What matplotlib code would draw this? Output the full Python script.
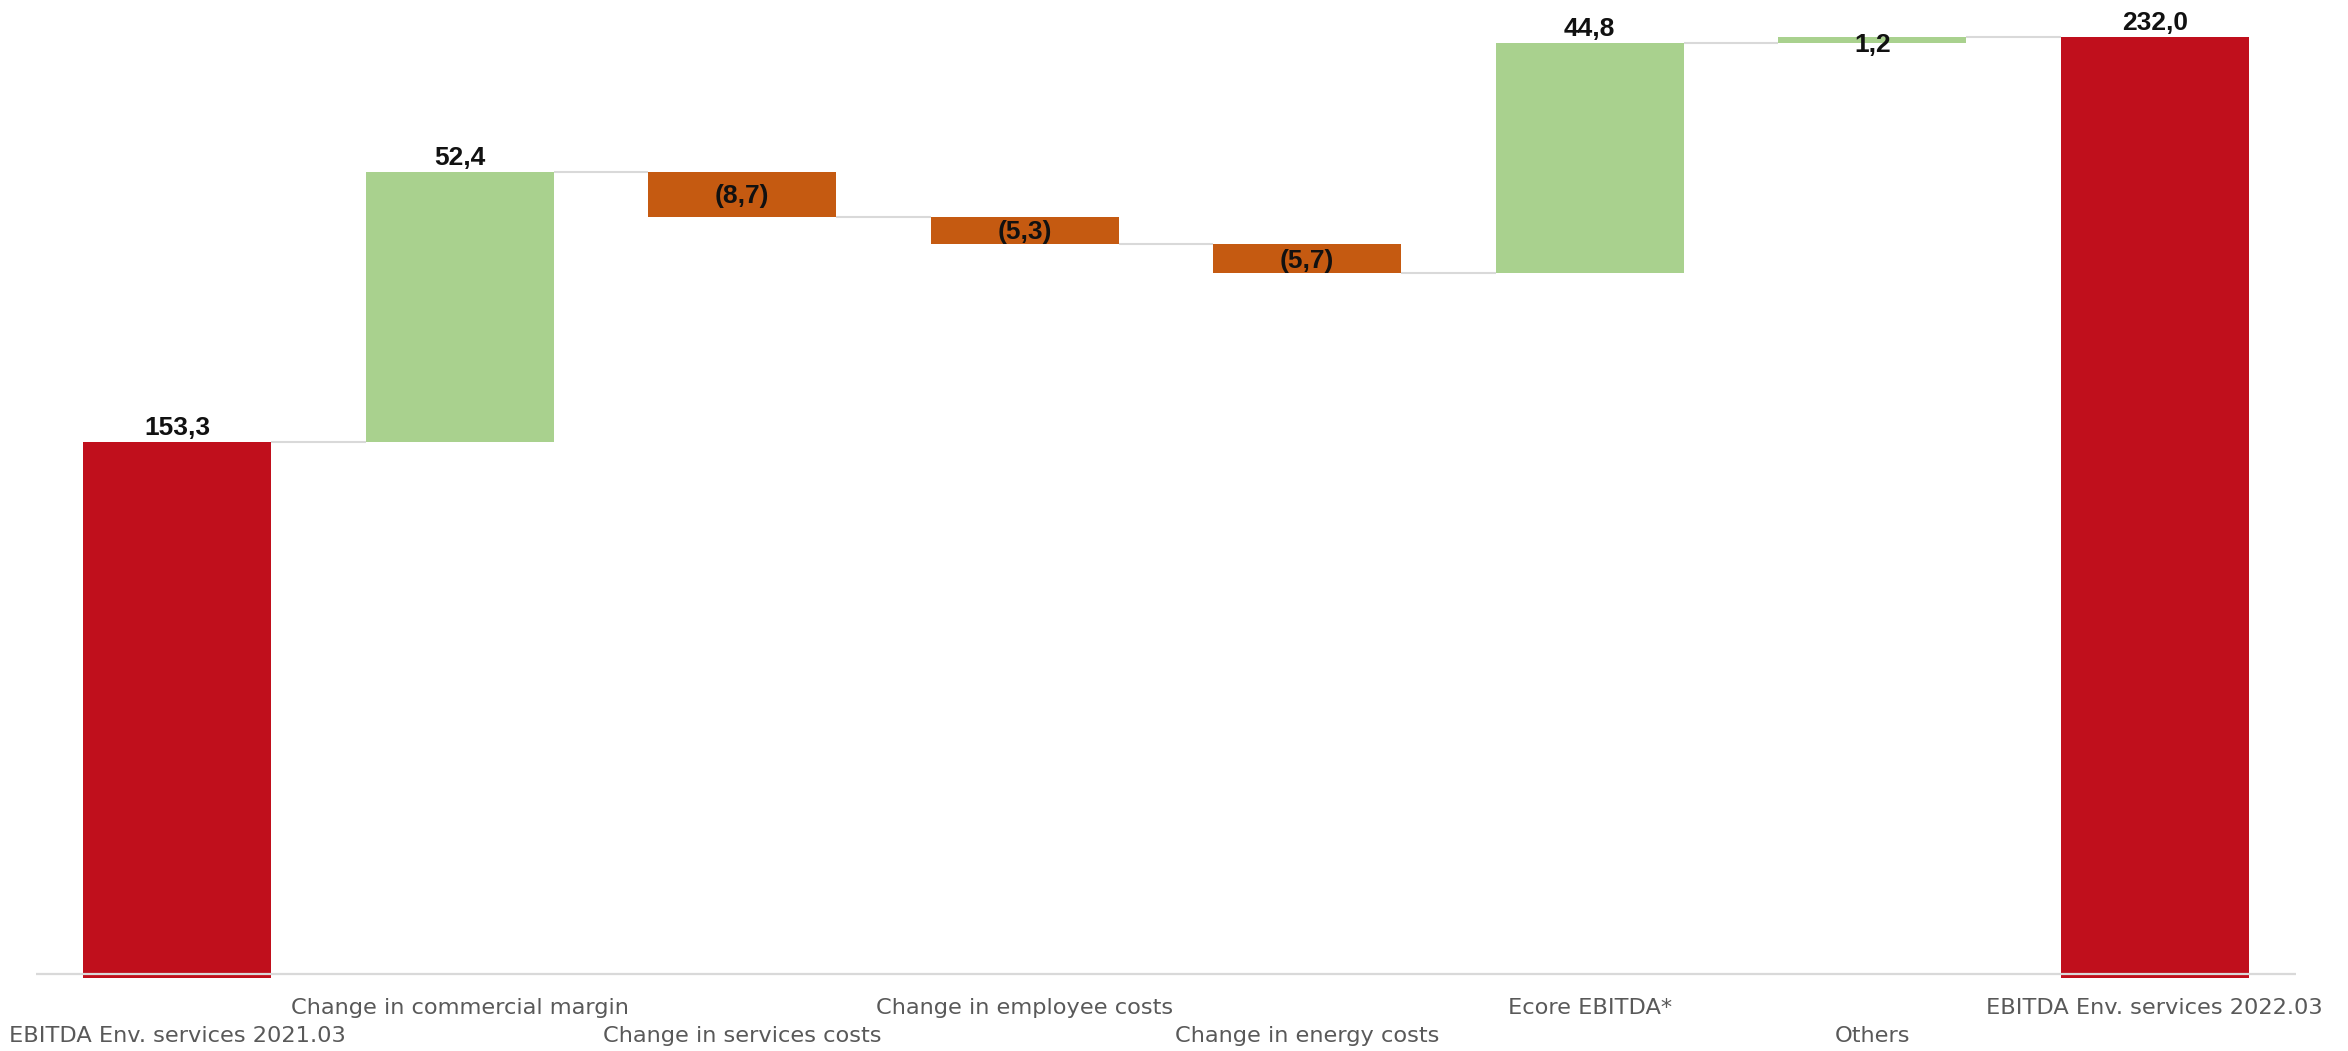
import numpy as np
import matplotlib.pyplot as plt

categories = ["EBITDA Env. services 2021.03", "Change in commercial margin",
              "Change in services costs", "Change in employee costs",
              "Change in energy costs", "Ecore EBITDA*", "Others",
              "EBITDA Env. services 2022.03"]
values = [153.3, 52.4, -8.7, -5.3, -5.7, 44.8, 1.2, 232.0]
kinds = ["total", "delta", "delta", "delta", "delta", "delta", "delta", "total"]

RED = "#C00F1C"
GREEN = "#A9D18E"
ORANGE = "#C55A11"
GRID = "#D9D9D9"


def fmt(v):
    s = f"{abs(v):.1f}".replace(".", ",")
    return f"({s})" if v < 0 else s


plt.rcParams['font.family'] = ['Liberation Sans', 'DejaVu Sans']

fig = plt.figure(figsize=(23.48, 10.51), dpi=100)
ax = fig.add_axes([0.01533, 0.06946, 0.96252, 0.93054])

x = np.arange(len(categories))
width = 0.665

bottoms, heights, colors, tops = [], [], [], []
running = 0.0
for v, k in zip(values, kinds):
    if k == "total":
        bottoms.append(0)
        heights.append(v)
        colors.append(RED)
        running = v
    else:
        start = running
        running = running + v
        bottoms.append(min(start, running))
        heights.append(abs(v))
        colors.append(GREEN if v > 0 else ORANGE)
    tops.append(running)

ax.bar(x, heights, width, bottom=bottoms, color=colors, linewidth=0, zorder=2)

# connectors
for i in range(len(x) - 1):
    ax.plot([x[i] + width / 2, x[i + 1] - width / 2], [tops[i], tops[i]],
            color=GRID, lw=1.5, zorder=1, solid_capstyle="butt")

ax.set_xlim(-0.5, len(x) - 0.5)
ax.set_ylim(49.07, 239.13)
ax.axhline(49.9, color=GRID, lw=1.6, zorder=3)

# value labels
for i, v in enumerate(values):
    b, h = bottoms[i], heights[i]
    if kinds[i] == "delta" and (v < 0 or abs(v) < 5):
        dy = -5 if abs(v) < 5 else -2
        ax.annotate(fmt(v), (x[i], b + h / 2), xytext=(0, dy),
                    textcoords="offset pixels", ha="center", va="center",
                    fontsize=19, fontweight="bold", color="#111111", zorder=4)
    else:
        ax.annotate(fmt(v), (x[i], b + h), xytext=(0, 7),
                    textcoords="offset pixels", ha="center", va="baseline",
                    fontsize=19, fontweight="bold", color="#111111", zorder=4)

# staggered category labels
for i, c in enumerate(categories):
    dy = -36 if i % 2 == 1 else -64
    ax.annotate(c, (x[i], 0), xycoords=ax.get_xaxis_transform(),
                xytext=(0, dy), textcoords="offset pixels",
                ha="center", va="baseline", fontsize=16.2, color="#595959",
                family="DejaVu Sans", annotation_clip=False)

ax.set_xticks([])
ax.set_yticks([])
for s in ax.spines.values():
    s.set_visible(False)

fig.savefig("out.png", dpi=100)
